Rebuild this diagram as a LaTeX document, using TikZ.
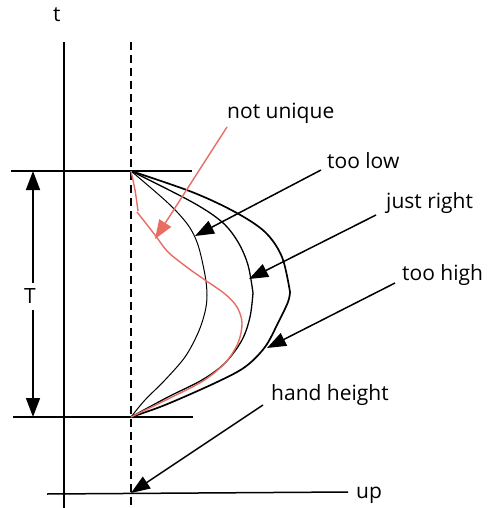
\documentclass[tikz,border=0pt]{standalone}
\usepackage{fontspec}
\setmainfont{Open Sans}
\usetikzlibrary{arrows.meta}
\definecolor{redline}{RGB}{232,110,100}
\begin{document}
\begin{tikzpicture}[x=1pt,y=-1pt,
  lbl/.style={anchor=base west,inner sep=0pt,font=\fontsize{21}{24}\selectfont},
  axis/.style={line width=1.5pt},
  tip/.style={-{Triangle[length=19pt,width=14pt]}},
  ptr/.style={line width=1.5pt,tip},
  rptr/.style={line width=1.4pt,draw=redline,tip,redline},
  traj/.style={line width=#1},
]
\useasboundingbox[fill=white] (0,0) rectangle (488,508);
% axes
\coordinate (axtop) at (64,42);
\coordinate (axbot) at (64,508);
\draw[axis] (axtop) -- (axbot);
\coordinate (dtop) at (131,42);
\coordinate (dbot) at (131,508);
\draw[line width=1.3pt,dash pattern=on 8pt off 5pt] (dtop) -- (dbot);
\node[lbl] (t) at (53,22) {t};
% horizontal lines
\coordinate (h1l) at (11,171); \coordinate (h1r) at (192,171);
\coordinate (h2l) at (13,417); \coordinate (h2r) at (193,417);
\coordinate (h3l) at (47,494); \coordinate (h3r) at (348,492);
\draw[axis] (h1l) -- (h1r);
\draw[axis] (h2l) -- (h2r);
\draw[axis] (h3l) -- (h3r);
\node[lbl] (up) at (356,498) {up};
% T arrow
\coordinate (Ttop) at (33,171);
\coordinate (Tbot) at (33,417);
\draw[line width=1.5pt,{Triangle[length=19pt,width=14pt]}-{Triangle[length=19pt,width=14pt]}] (Ttop) -- (Tbot);
\node[anchor=center,inner sep=0pt,minimum width=16pt,minimum height=27pt,fill=white,font=\fontsize{21}{24}\selectfont] (T) at (30,296.5) {T};
% trajectories
\draw[traj=1pt] plot[smooth,tension=0.55] coordinates {(131,171) (168,203) (188,225) (198,245) (205,275) (207,295) (205,312) (198,333) (185,357) (165,380) (145,400) (131,417)};
\draw[traj=1.3pt] plot[smooth,tension=0.55] coordinates {(131,171) (192,202) (222,222) (238,242) (248,265) (253,293)};
\draw[traj=1.3pt] plot[smooth,tension=0.55] coordinates {(253,293) (250,317) (242,340) (225,363) (202,380) (168,397) (131,417)};
\draw[traj=1.7pt] plot[smooth,tension=0.55] coordinates {(131,171) (192,192) (235,212) (265,232) (282,257) (290,292)};
\draw[traj=1.7pt] plot[smooth,tension=0.55] coordinates {(290,292) (288,302) (278,323) (265,347) (245,367) (215,383) (165,405) (131,417)};
\draw[line width=1.4pt,redline] plot[smooth,tension=0.5] coordinates {(131,171) (135,190) (138,211)};
\draw[line width=1.4pt,redline] plot[smooth,tension=0.55] coordinates {(137,212) (155,235) (168,252) (188,268) (205,280) (225,294) (237,307) (242,323) (238,343) (225,363) (203,381) (170,398) (131,417)};
% labels
\node[lbl] (nu) at (227,118) {not unique};
\node[lbl] (tl) at (327,168) {too low};
\node[lbl] (jr) at (386,208) {just right};
\node[lbl] (th) at (402,280) {too high};
\node[lbl] (hh) at (271,400) {hand height};
% pointers
\coordinate (nus) at (227,127); \coordinate (nut) at (155,239);
\coordinate (tls) at (321,170); \coordinate (tlt) at (195,236);
\coordinate (jrs) at (376,215); \coordinate (jrt) at (249,279);
\coordinate (ths) at (395,283); \coordinate (tht) at (267,348);
\coordinate (hhs) at (263,405); \coordinate (hht) at (131,493);
\draw[rptr] (nus) -- (nut);
\draw[ptr] (tls) -- (tlt);
\draw[ptr] (jrs) -- (jrt);
\draw[ptr] (ths) -- (tht);
\draw[ptr] (hhs) -- (hht);
\end{tikzpicture}
\end{document}
